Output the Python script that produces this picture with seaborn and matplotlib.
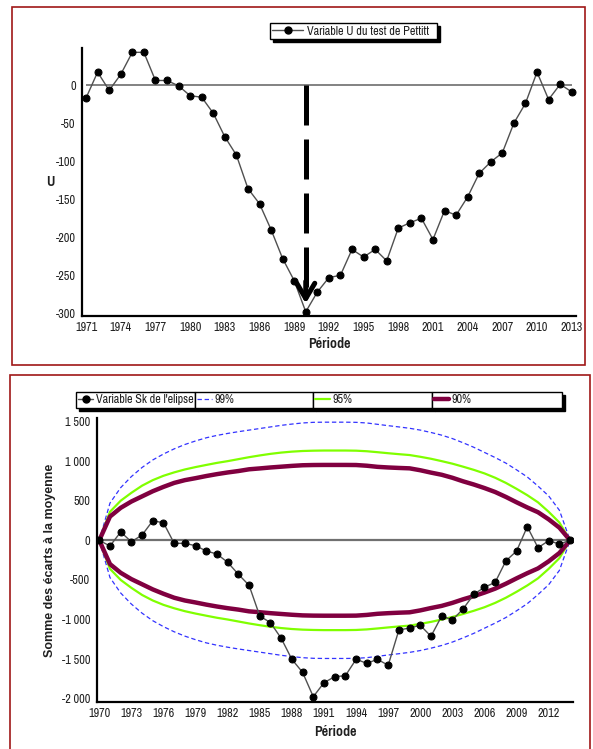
import matplotlib
matplotlib.use("Agg")
import matplotlib.pyplot as plt
import seaborn as sns
import pandas as pd
import numpy as np
from matplotlib.lines import Line2D
from matplotlib.patches import Rectangle
from matplotlib.ticker import FuncFormatter, FixedLocator

# ---------------- data ----------------
years_u = list(range(1971, 2014))
u_values = [-17, 17, -7, 14, 43, 43, 6, 6, -1, -14, -16, -37, -68, -92, -136,
            -156, -190, -228, -257, -298, -272, -253, -250, -216, -226, -216,
            -231, -188, -181, -175, -203, -165, -171, -147, -116, -101, -89,
            -50, -24, 17, -19, 1, -9]

years_sk = list(range(1970, 2015))
sk_values = [0, -72, 105, -18, 67, 247, 222, -38, -38, -68, -135, -173, -278,
             -429, -568, -956, -1040, -1237, -1503, -1667, -1975, -1798, -1722,
             -1710, -1503, -1553, -1503, -1578, -1133, -1107, -1073, -1212,
             -956, -1006, -867, -682, -593, -530, -260, -135, 172, -93, -5,
             -47, 0]
ell_99 = [0, 470, 665, 805, 920, 1015, 1090, 1155, 1210, 1255, 1295,
          1325, 1350, 1372, 1392, 1412, 1432, 1452, 1468, 1482, 1490,
          1492, 1492, 1492, 1490, 1482, 1465, 1448, 1432, 1415, 1392,
          1362, 1328, 1285, 1232, 1175, 1110, 1045, 975, 890, 800,
          685, 560, 380, 0]
ell_95 = [0, 360, 500, 600, 690, 760, 815, 858, 895, 925, 952,
          978, 1000, 1025, 1050, 1072, 1092, 1108, 1120, 1128, 1132,
          1134, 1134, 1134, 1132, 1125, 1113, 1100, 1088, 1077, 1055,
          1030, 1000, 968, 930, 890, 845, 790, 725, 650, 570,
          480, 360, 225, 0]
ell_90 = [0, 300, 410, 490, 555, 620, 675, 725, 760, 785, 812,
          836, 857, 875, 897, 908, 920, 930, 940, 948, 951,
          952, 952, 952, 951, 942, 928, 920, 914, 909, 885,
          855, 828, 790, 745, 705, 660, 610, 548, 480, 415,
          355, 265, 160, 0]

top_xticks = list(range(1971, 2014, 3))
top_yticks = [0, -50, -100, -150, -200, -250, -300]
bot_xticks = list(range(1970, 2013, 3))
bot_yticks = [1500, 1000, 500, 0, -500, -1000, -1500, -2000]

label_u = "Variable U du test de Pettitt"
labels_bot = ["Variable Sk de l'elipse", "99%", "95%", "90%"]

# ---------------- style ----------------
sns.set_theme(style="white")
NARROW = ["Pragati Narrow", "Archivo Narrow", "Liberation Sans", "DejaVu Sans"]
WIDE = ["Liberation Sans", "DejaVu Sans"]
plt.rcParams["font.family"] = NARROW
plt.rcParams["axes.unicode_minus"] = False
FS = 9.5
LFS = 11
TXT = "#202020"
C99, C95, C90 = "#3333ff", "#80ff00", "#800040"
CLINE = "#505050"

W, H = 593, 749
fig = plt.figure(figsize=(W / 100, H / 100), dpi=100)


def fx(px):
    return px / W


def fy(py):
    return 1 - py / H


# red panel borders
fig.patches.append(Rectangle((fx(12), fy(365)), fx(585) - fx(12), fy(7) - fy(365),
                             transform=fig.transFigure, fill=False,
                             edgecolor="#a01818", lw=1.2, zorder=0))
fig.patches.append(Rectangle((fx(10), fy(760)), fx(590) - fx(10), fy(375) - fy(760),
                             transform=fig.transFigure, fill=False,
                             edgecolor="#a01818", lw=1.2, zorder=0))


def style_axes(ax):
    sns.despine(ax=ax)
    for s in ("left", "bottom"):
        ax.spines[s].set_color("black")
        ax.spines[s].set_linewidth(1.6)
    ax.tick_params(axis="both", which="major", length=3, width=0.8, color="#404040",
                   labelsize=FS, labelcolor=TXT, pad=1.5, direction="out")
    ax.grid(False)
    ax.set_facecolor("white")


fmt = FuncFormatter(lambda v, p: f"{int(round(v)):,}".replace(",", " "))

# ---------------- top panel ----------------
ax1 = fig.add_axes([fx(82), fy(316), fx(576) - fx(82), fy(48) - fy(316)])
style_axes(ax1)
df_u = pd.DataFrame({"year": years_u, "U": u_values})
ax1.hlines(0, years_u[0], years_u[-1], color="#606060", lw=1.1, zorder=1)
sns.lineplot(data=df_u, x="year", y="U", ax=ax1, color=CLINE, lw=1.0,
             marker="o", markersize=5, markerfacecolor="black",
             markeredgecolor="black", estimator=None, sort=False, zorder=3)

# change-point arrow (Pettitt)
i_cp = int(np.argmin(u_values))
x_cp, y_cp = years_u[i_cp], u_values[i_cp]
ax1.plot([x_cp, x_cp], [0, y_cp + 22], color="black", lw=3.6,
         linestyle=(0, (8, 2.8)), solid_capstyle="butt", zorder=4)
ax1.annotate("", xy=(x_cp, y_cp + 11), xytext=(x_cp, y_cp + 40),
             arrowprops=dict(arrowstyle="->,head_length=1.1,head_width=0.65",
                             lw=3.6, color="black", shrinkA=0, shrinkB=0,
                             mutation_scale=10), zorder=4)

ax1.set_xlim(1970.65, 2013.37)
ax1.set_ylim(-303.5, 48.7)
ax1.xaxis.set_major_locator(FixedLocator(top_xticks))
ax1.yaxis.set_major_locator(FixedLocator(top_yticks))
ax1.yaxis.set_major_formatter(fmt)
ax1.set_xlabel("Période", fontsize=LFS, fontweight="bold", color=TXT, labelpad=3)
ax1.set_ylabel("U", fontsize=LFS, fontweight="bold", color=TXT, rotation=0,
               labelpad=0, va="center", ha="center")
ax1.yaxis.set_label_coords(fx(50 - 82) / (fx(576) - fx(82)), 0.5)

h_u = Line2D([], [], color=CLINE, lw=1.0, marker="o", markersize=5,
             markerfacecolor="black", markeredgecolor="black")
shadow = {"color": "black", "alpha": 1, "ox": 2.2, "oy": -2.2}
fig.legend(handles=[h_u], labels=[label_u], loc="upper left",
           bbox_to_anchor=(fx(270), fy(23), fx(437) - fx(270), 0),
           bbox_transform=fig.transFigure, mode="expand", borderaxespad=0,
           frameon=True, fancybox=False, edgecolor="black", framealpha=1,
           shadow=shadow, borderpad=0.18, handlelength=2.3, handletextpad=0.3,
           fontsize=FS, labelcolor=TXT)

# ---------------- bottom panel ----------------
ax2 = fig.add_axes([fx(96.7), fy(701.7), fx(573.3) - fx(96.7), fy(418.3) - fy(701.7)])
style_axes(ax2)
df_sk = pd.DataFrame({"year": years_sk, "Sk": sk_values,
                      "e99": ell_99, "e95": ell_95, "e90": ell_90})
ax2.hlines(0, years_sk[0], years_sk[-1], color="#707070", lw=1.6, zorder=1)

for col, c, lw, ls in [("e99", C99, 0.9, (0, (3.5, 2.2))),
                       ("e95", C95, 1.6, "-"),
                       ("e90", C90, 3.2, "-")]:
    for sign in (1, -1):
        sns.lineplot(x=df_sk["year"], y=sign * df_sk[col], ax=ax2, color=c, lw=lw,
                     linestyle=ls, estimator=None, sort=False, zorder=2)

sns.lineplot(data=df_sk, x="year", y="Sk", ax=ax2, color=CLINE, lw=1.0,
             marker="o", markersize=5, markerfacecolor="black",
             markeredgecolor="black", estimator=None, sort=False, zorder=3)

ax2.set_xlim(1969.76, 2014.3)
ax2.set_ylim(-2038, 1541)
ax2.xaxis.set_major_locator(FixedLocator(bot_xticks))
ax2.yaxis.set_major_locator(FixedLocator(bot_yticks))
ax2.yaxis.set_major_formatter(fmt)
ax2.set_xlabel("Période", fontsize=LFS, fontweight="bold", color=TXT, labelpad=4)
ax2.set_ylabel("Somme des écarts à la moyenne", fontsize=9, fontweight="bold",
               color=TXT, labelpad=4, family=WIDE)

handles_bot = [
    Line2D([], [], color=CLINE, lw=1.0, marker="o", markersize=5,
           markerfacecolor="black", markeredgecolor="black"),
    Line2D([], [], color=C99, lw=0.9, linestyle=(0, (3.5, 2.2))),
    Line2D([], [], color=C95, lw=1.6),
    Line2D([], [], color=C90, lw=3.2),
]
edges = [76, 195, 313, 432, 562]
for k in range(4):
    fig.legend(handles=[handles_bot[k]], labels=[labels_bot[k]], loc="upper left",
               bbox_to_anchor=(fx(edges[k]), fy(391.7), fx(edges[k + 1]) - fx(edges[k]), 0),
               bbox_transform=fig.transFigure, mode="expand", borderaxespad=0,
               frameon=True, fancybox=False, edgecolor="black", framealpha=1,
               shadow=shadow, borderpad=0.18, handlelength=1.1, handletextpad=0.2,
               fontsize=FS, labelcolor=TXT)

fig.savefig("out.png", dpi=100)
